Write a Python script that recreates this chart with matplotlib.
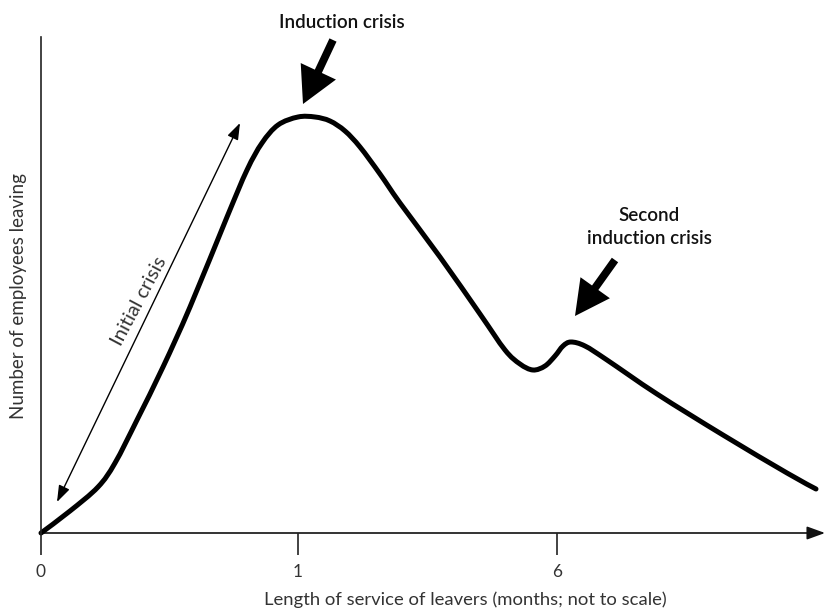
import matplotlib
matplotlib.use("Agg")
import matplotlib.pyplot as plt
from matplotlib.patches import FancyArrowPatch, PathPatch
from matplotlib.path import Path
import numpy as np

plt.rcParams["font.family"] = ["Lato", "DejaVu Sans"]

# Key points of the curve
# (x: service position along the axis, not to scale; y: number leaving, arbitrary units)
curve_x = [0, 29, 57, 74, 96, 122, 149, 186, 206, 221, 237, 257, 274, 289, 304, 319,
           339, 359, 399, 439, 464, 479, 492, 504, 514, 522, 530, 544, 566, 616, 682, 746, 775]
curve_y = [0, 22, 46, 70, 113, 166, 226, 316, 363, 390, 408, 416, 416, 412, 402, 386,
           359, 330, 276, 219, 183, 169, 163, 167, 177, 187, 191, 187, 173, 139, 98, 60, 44]

tick_pos = [0, 257, 516]
tick_labels = ["0", "1", "6"]

x_label = "Length of service of leavers (months; not to scale)"
y_label = "Number of employees leaving"

W, H = 825, 615
fig = plt.figure(figsize=(W / 100, H / 100), dpi=100)
ox, oy = 41, 533          # origin in pixels
top = 37
xmax = 784
ax = fig.add_axes([ox / W, (H - oy) / H, xmax / W, (oy - top) / H])
ax.set_xlim(0, xmax)
ax.set_ylim(0, oy - top)

for s in ["top", "right", "bottom"]:
    ax.spines[s].set_visible(False)
ax.spines["left"].set_linewidth(1.2)
ax.spines["left"].set_color("#222222")
ax.set_yticks([])
ax.set_xticks(tick_pos)
ax.set_xticklabels(tick_labels, fontsize=12.5, color="#333333")
ax.tick_params(axis="x", direction="out", length=16, width=1.2, pad=6, color="#222222")

# x axis with arrow
ax.add_patch(FancyArrowPatch((0, 0), (xmax, 0),
                             arrowstyle="-|>,head_length=1.1,head_width=0.4",
                             mutation_scale=10, lw=1.2, color="#111111", clip_on=False,
                             shrinkA=0, shrinkB=0))

ax.set_xlabel(x_label, fontsize=13.3, color="#333333")
ax.xaxis.set_label_coords((465 - ox) / xmax, (oy - 591) / (oy - top))
ax.set_ylabel(y_label, fontsize=13.5, color="#333333")
ax.yaxis.set_label_coords((27 - ox) / xmax, (oy - 296) / (oy - top))

# main curve: smooth path through the read key points (Catmull-Rom as cubic Bezier)
pts = np.column_stack([curve_x, curve_y]).astype(float)
verts = [tuple(pts[0])]
codes = [Path.MOVETO]
n = len(pts)
for i in range(n - 1):
    p0 = pts[i - 1] if i > 0 else pts[i]
    p1 = pts[i]
    p2 = pts[i + 1]
    p3 = pts[i + 2] if i + 2 < n else pts[i + 1]
    c1 = p1 + (p2 - p0) / 6.0
    c2 = p2 - (p3 - p1) / 6.0
    verts += [tuple(c1), tuple(c2), tuple(p2)]
    codes += [Path.CURVE4] * 3
ax.add_patch(PathPatch(Path(verts, codes), fill=False, edgecolor="black", lw=3.6,
                       capstyle="round", joinstyle="round", clip_on=False))

# Initial crisis double arrow
ax.add_patch(FancyArrowPatch((57 - ox, oy - 502), (240 - ox, oy - 123),
                             arrowstyle="<|-|>,head_length=1.0,head_width=0.35",
                             mutation_scale=10, lw=1.0, color="black", shrinkA=0, shrinkB=0))
ax.text(139 - ox, oy - 301, "Initial crisis", rotation=62, ha="center", va="center",
        fontsize=14.5, color="#333333", rotation_mode="anchor")

# Induction crisis arrow
ax.add_patch(FancyArrowPatch((333 - ox, oy - 40), (303 - ox, oy - 104),
                             arrowstyle="simple,head_length=1.3,head_width=1.4,tail_width=0.28",
                             mutation_scale=20, lw=0, color="black", shrinkA=0, shrinkB=0,
                             clip_on=False))
ax.text(342 - ox, oy - 23, "Induction crisis", ha="center", va="center", fontsize=13.5,
        fontweight="semibold", color="#111111", clip_on=False)

# Second induction crisis arrow
ax.add_patch(FancyArrowPatch((615 - ox, oy - 260), (575 - ox, oy - 316),
                             arrowstyle="simple,head_length=1.25,head_width=1.3,tail_width=0.28",
                             mutation_scale=20, lw=0, color="black", shrinkA=0, shrinkB=0))
ax.text(649 - ox, oy - 227, "Second\ninduction crisis", ha="center", va="center",
        fontsize=13.5, fontweight="semibold", color="#111111", linespacing=1.45)

fig.savefig("out.png", dpi=100, facecolor="white")
